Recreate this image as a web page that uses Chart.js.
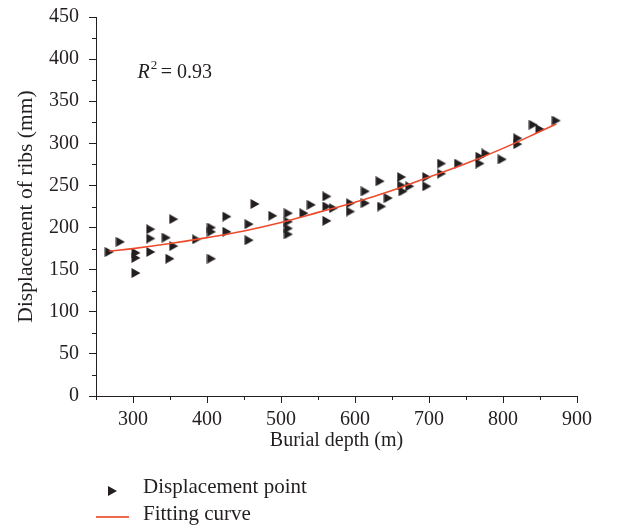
<!DOCTYPE html>
<html>
<head>
<meta charset="utf-8">
<script src="https://cdn.jsdelivr.net/npm/chart.js@4/dist/chart.umd.min.js"></script>
<style>
  body { margin: 0; background: #fff; }
  #wrap { position: relative; width: 621px; height: 529px; }
  .leg { position: absolute; font-family: "Liberation Serif", serif; font-size: 21px; color: #231f20; white-space: nowrap; }
  .tri { position: absolute; width: 0; height: 0; border-left: 9px solid #231f20;
         border-top: 5px solid transparent; border-bottom: 5px solid transparent; }
  .ln { position: absolute; height: 2px; background: #f26a4e; }
</style>
</head>
<body>
<div id="wrap">
  <canvas id="myChart" width="621" height="529"></canvas>
  <div class="tri" style="left:108px; top:486px;"></div>
  <div class="leg" style="left:143px; top:474px;">Displacement point</div>
  <div class="ln" style="left:96px; top:516px; width:33px;"></div>
  <div class="leg" style="left:143px; top:501px;">Fitting curve</div>
</div>
<script>
// burial depth (m) / displacement (mm)
const depth = [268, 283, 304, 304, 304, 324, 324, 324, 345, 355, 355, 350, 386, 406, 406, 406,
  427, 427, 457, 457, 465, 489, 510, 510, 510, 510, 531, 541, 562, 562, 562, 571, 594, 594,
  614, 614, 634, 636, 645, 663, 663, 665, 674, 697, 697, 717, 717, 740, 769, 769, 777, 799,
  820, 820, 841, 850, 872]
const displacement = [171, 183, 170, 164, 146, 198, 187, 171, 188, 178, 210, 163, 186, 200, 195, 163,
  213, 195, 204, 185, 228, 214, 217, 207, 199, 192, 217, 227, 237, 225, 208, 223, 229, 219,
  243, 229, 255, 225, 235, 260, 250, 243, 249, 260, 249, 276, 264, 276, 284, 276, 288, 281,
  306, 299, 322, 317, 327]

// fitting curve, read at a few depths
const fitDepth = [268, 300, 350, 400, 450, 500, 550, 600, 650, 700, 750, 800, 850, 872]
const fitValue = [172, 175, 181, 188, 196, 206, 218, 230, 244, 260, 276, 294, 314, 323]

const xTicks = [300, 400, 500, 600, 700, 800, 900]
const yTicks = [0, 50, 100, 150, 200, 250, 300, 350, 400, 450]
const xMinor = [250, 350, 450, 550, 650, 750, 850]
const yMinor = [25, 75, 125, 175, 225, 275, 325, 375, 425]

const INK = '#231f20'
const FONT = "'Liberation Serif', serif"

function makeTriangle() {
  const c = document.createElement('canvas')
  c.width = 10
  c.height = 10
  const g = c.getContext('2d')
  g.fillStyle = INK
  g.beginPath()
  g.moveTo(0.5, 0)
  g.lineTo(9.5, 5)
  g.lineTo(0.5, 10)
  g.closePath()
  g.fill()
  return c
}

// short outward minor ticks + R² note
const extras = {
  id: 'extras',
  afterDraw(chart) {
    const ctx = chart.ctx
    const xs = chart.scales.x, ys = chart.scales.y
    ctx.save()
    ctx.strokeStyle = INK
    ctx.lineWidth = 1
    ctx.beginPath()
    xMinor.forEach(v => {
      const px = Math.round(xs.getPixelForValue(v)) + 0.5
      ctx.moveTo(px, ys.bottom)
      ctx.lineTo(px, ys.bottom + 4)
    })
    yMinor.forEach(v => {
      const py = Math.round(ys.getPixelForValue(v)) + 0.5
      ctx.moveTo(xs.left, py)
      ctx.lineTo(xs.left - 4, py)
    })
    ctx.stroke()

    const x0 = xs.getPixelForValue(306), y0 = ys.getPixelForValue(384)
    ctx.fillStyle = INK
    ctx.textBaseline = 'middle'
    ctx.font = "italic 20px " + FONT
    ctx.fillText('R', x0, y0)
    let w = ctx.measureText('R').width
    ctx.font = "13px " + FONT
    ctx.fillText('2', x0 + w + 1, y0 - 7)
    ctx.font = "20px " + FONT
    ctx.fillText('= 0.93', x0 + w + 11, y0)
    ctx.restore()
  }
}

new Chart(document.getElementById('myChart'), {
  type: 'scatter',
  data: {
    datasets: [
      {
        label: 'Fitting curve',
        data: fitDepth.map((d, i) => ({x: d, y: fitValue[i]})),
        showLine: true,
        borderColor: '#ee4a2c',
        borderWidth: 1.6,
        pointRadius: 0,
        tension: 0.4,
        order: 0
      },
      {
        label: 'Displacement point',
        data: depth.map((d, i) => ({x: d, y: displacement[i]})),
        pointStyle: makeTriangle(),
        pointRadius: 5,
        order: 1
      }
    ]
  },
  options: {
    responsive: false,
    animation: false,
    layout: { padding: { left: 0, top: 17, right: 44, bottom: 63 } },
    plugins: { legend: { display: false }, tooltip: { enabled: false } },
    scales: {
      x: {
        type: 'linear',
        min: 250,
        max: 900,
        afterBuildTicks: s => { s.ticks = xTicks.map(v => ({value: v})) },
        afterFit: s => { s.height = 70; s.paddingLeft = 0; s.paddingRight = 0 },
        grid: { drawOnChartArea: false, tickLength: 7, color: INK },
        border: { color: INK, width: 1 },
        ticks: { color: INK, padding: 5, maxRotation: 0, font: { family: FONT, size: 20 } },
        title: { display: true, text: 'Burial depth (m)', color: INK,
                 font: { family: FONT, size: 20 }, padding: { top: 0, bottom: 13 } }
      },
      y: {
        min: 0,
        max: 450,
        afterBuildTicks: s => { s.ticks = yTicks.map(v => ({value: v})) },
        afterFit: s => { s.width = 96; s.paddingTop = 0; s.paddingBottom = 0 },
        grid: { drawOnChartArea: false, tickLength: 7, color: INK },
        border: { color: INK, width: 1 },
        ticks: { color: INK, padding: 10, font: { family: FONT, size: 20 } },
        title: { display: true, text: 'Displacement of ribs (mm)', color: INK,
                 font: { family: FONT, size: 21.5 }, padding: { top: 13, bottom: 0 } }
      }
    }
  },
  plugins: [extras]
})
</script>
</body>
</html>
